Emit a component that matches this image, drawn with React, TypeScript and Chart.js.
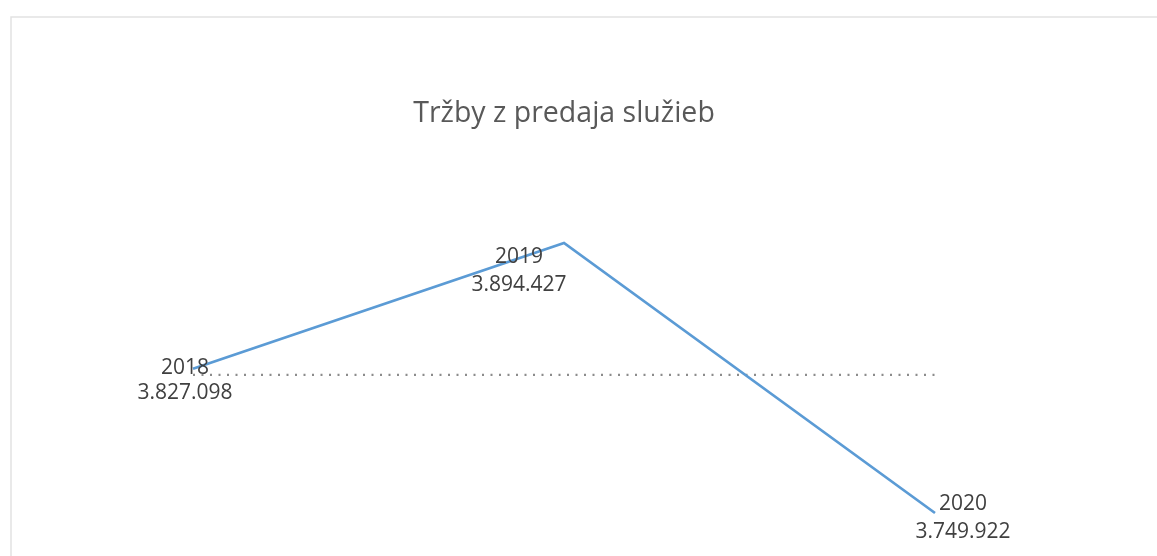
import React, { useEffect, useRef } from "react";
import { Chart, registerables } from "chart.js";

Chart.register(...registerables);

const categories: string[] = ["2018", "2019", "2020"];
const revenue: number[] = [3827098, 3894427, 3749922];
const valueLabels: string[] = ["3.827.098", "3.894.427", "3.749.922"];
const averageValue = 3823816;
const averageSeries: number[] = [averageValue, averageValue, averageValue];
const chartTitle = "Tržby z predaja služieb";

const labelOffsets = [
  { dx: -8, dy1: -1, dy2: 24 },
  { dx: -45, dy1: 14, dy2: 42 },
  { dx: 28, dy1: -9, dy2: 19 },
];

const decorPlugin = {
  id: "decor",
  beforeDraw(chart: any) {
    const ctx = chart.ctx;
    ctx.save();
    ctx.fillStyle = "#ffffff";
    ctx.fillRect(0, 0, chart.width, chart.height);
    ctx.strokeStyle = "#e2e2e2";
    ctx.lineWidth = 1.5;
    ctx.beginPath();
    ctx.moveTo(11, chart.height);
    ctx.lineTo(11, 17);
    ctx.lineTo(chart.width, 17);
    ctx.stroke();
    ctx.fillStyle = "#595959";
    ctx.font = "28.5px 'Open Sans'";
    ctx.textAlign = "center";
    ctx.textBaseline = "alphabetic";
    ctx.fillText(chartTitle, 564, 122);
    ctx.restore();
  },
  afterDatasetsDraw(chart: any) {
    const ctx = chart.ctx;
    const meta = chart.getDatasetMeta(0);
    ctx.save();
    ctx.fillStyle = "#404040";
    ctx.font = "21px 'Open Sans'";
    ctx.textAlign = "center";
    ctx.textBaseline = "middle";
    meta.data.forEach((pt: any, i: number) => {
      const o = labelOffsets[i];
      ctx.fillText(categories[i], pt.x + o.dx, pt.y + o.dy1);
      ctx.fillText(valueLabels[i], pt.x + o.dx, pt.y + o.dy2);
    });
    ctx.restore();
  },
};

export default function App() {
  const ref = useRef<HTMLCanvasElement>(null);
  useEffect(() => {
    document.body.style.margin = "0";
    const chart = new Chart(ref.current as HTMLCanvasElement, {
      type: "line",
      data: {
        labels: categories,
        datasets: [
          {
            data: revenue,
            borderColor: "#5b9bd5",
            borderWidth: 2.75,
            pointRadius: 0,
            tension: 0,
            clip: false as any,
          },
          {
            data: averageSeries,
            borderColor: "#8c8c8c",
            borderWidth: 2.2,
            borderDash: [2, 6.5],
            pointRadius: 0,
            tension: 0,
            clip: false as any,
          },
        ],
      },
      options: {
        animation: false,
        responsive: false,
        maintainAspectRatio: false,
        layout: { padding: { left: 193, right: 222, top: 243, bottom: 43 } },
        plugins: {
          legend: { display: false },
          title: { display: false },
          tooltip: { enabled: false },
        },
        scales: {
          x: { display: false, offset: false },
          y: { display: false, min: 3749922, max: 3894427 },
        },
      },
      plugins: [decorPlugin],
    });
    return () => chart.destroy();
  }, []);
  return (
    <div style={{ position: "fixed", left: 0, top: 0, width: 1157, height: 556 }}>
      <canvas ref={ref} width={1157} height={556} style={{ display: "block" }} />
    </div>
  );
}
